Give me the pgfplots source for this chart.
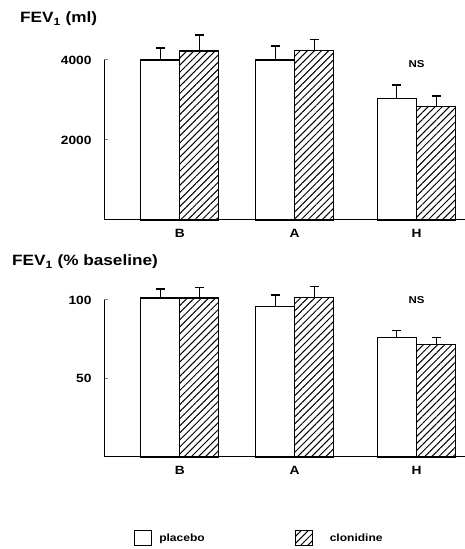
\documentclass[border=0pt]{standalone}
\usepackage{fontspec}
\setmainfont[FakeStretch=1.15]{Liberation Sans}
\usepackage{pgfplots}
\pgfplotsset{compat=1.18}
\usetikzlibrary{patterns.meta}

\pgfplotsset{
  fevbar/.style={
    scale only axis, width=361bp,
    xmin=-0.64, xmax=2.41, ymin=0,
    axis x line*=bottom, axis y line*=left,
    axis line style={line width=1bp},
    clip=false,
    ybar=0pt, bar width=0.33,
    xtick={0,0.97,2}, xticklabels={B,A,H},
    xtick style={draw=none},
    ytick style={line width=1bp},
    tick align=inside, major tick length=4bp,
    tick label style={font=\bfseries\fontsize{12}{14}\selectfont},
    /pgf/number format/assume math mode=true,
    xticklabel style={yshift=-6bp},
    yticklabel style={xshift=-9bp},
    error bars/y dir=plus, error bars/y explicit,
    error bars/error mark=|,
    error bars/error bar style={line width=1bp, black, solid},
    error bars/error mark options={line width=1.2bp, mark size=4.5bp, black, solid, draw=black},
  },
  plac/.style={draw=black, fill=white, line width=1.1bp},
  clon/.style={draw=black, line width=1.1bp, pattern={Lines[angle=45,distance=5bp,line width=1bp]}},
}

\begin{document}
\begin{tikzpicture}
\useasboundingbox (0,0) rectangle (465bp,549bp);

\node[anchor=west, inner sep=0, font=\bfseries\fontsize{15}{18}\selectfont] at (20bp,530bp) {FEV\textsubscript{1} (ml)};
\node[anchor=west, inner sep=0, font=\bfseries\fontsize{15}{18}\selectfont] at (12bp,287bp) {FEV\textsubscript{1} (\% baseline)};

\begin{axis}[fevbar, at={(104bp,329bp)}, anchor=south west, height=160bp,
  ymax=4000, ytick={2000,4000}, yticklabels={2000,4000}]
\addplot[plac] coordinates {(0,4000) +- (0,300) (0.97,4000) +- (0,350) (2,3040) +- (0,335)};
\addplot[clon] coordinates {(0,4225) +- (0,400) (0.97,4240) +- (0,280) (2,2835) +- (0,265)};
\node[font=\bfseries\fontsize{10}{12}\selectfont] at (axis cs:2,3900) {NS};
\end{axis}

\begin{axis}[fevbar, at={(104bp,92bp)}, anchor=south west, height=157bp,
  ymax=100, ytick={50,100}, yticklabels={50,100},
  legend columns=2,
  legend style={at={(axis description cs:0.083,-0.516)}, anchor=west, draw=none, fill=none, inner sep=0pt,
    font=\bfseries\fontsize{10.5}{12}\selectfont,
    /tikz/every odd column/.append style={column sep=5bp},
    /tikz/every even column/.append style={column sep=88bp}},
  legend image code/.code={\draw[#1] (0bp,-7.5bp) rectangle (17bp,7.5bp);}]
\addplot[plac] coordinates {(0,101.3) +- (0,5.7) (0.97,95.8) +- (0,7.4) (2,76.1) +- (0,4.4)};
\addlegendentry{placebo}
\addplot[clon] coordinates {(0,101.3) +- (0,6.9) (0.97,101.5) +- (0,6.9) (2,71.6) +- (0,4.4)};
\addlegendentry{\hspace{10bp}clonidine}
\node[font=\bfseries\fontsize{10}{12}\selectfont] at (axis cs:2,100) {NS};
\end{axis}
\end{tikzpicture}
\end{document}
